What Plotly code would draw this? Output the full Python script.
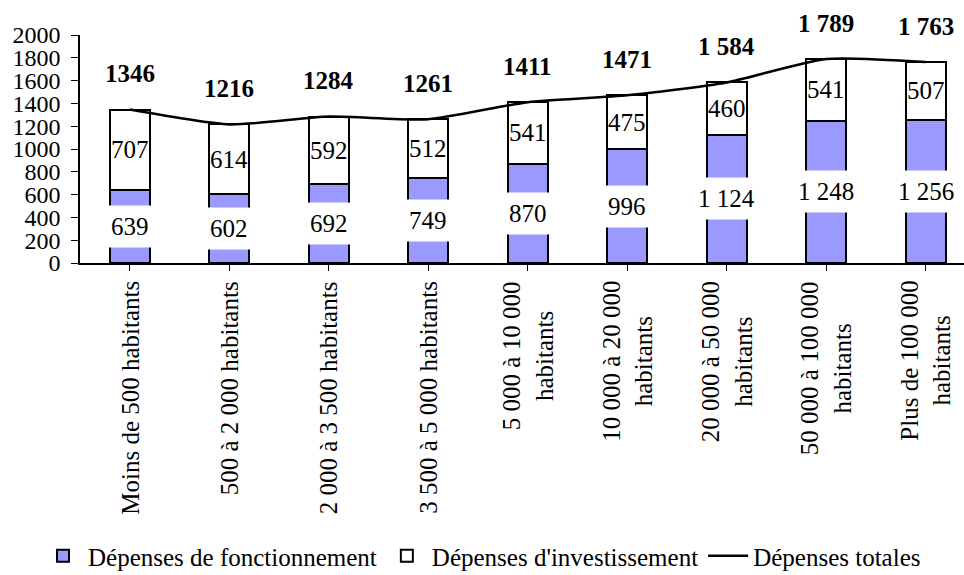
import plotly.graph_objects as go

categories = [
    "Moins de 500 habitants",
    "500 à 2 000 habitants",
    "2 000 à 3 500 habitants",
    "3 500 à 5 000 habitants",
    "5 000 à 10 000<br>habitants",
    "10 000 à 20 000<br>habitants",
    "20 000 à 50 000<br>habitants",
    "50 000 à 100 000<br>habitants",
    "Plus de 100 000<br>habitants",
]
fonctionnement = [639, 602, 692, 749, 870, 996, 1124, 1248, 1256]
investissement = [707, 614, 592, 512, 541, 475, 460, 541, 507]
totales = [1346, 1216, 1284, 1261, 1411, 1471, 1584, 1789, 1763]
total_labels = ["1346", "1216", "1284", "1261", "1411", "1471", "1 584", "1 789", "1 763"]
y_ticks = [0, 200, 400, 600, 800, 1000, 1200, 1400, 1600, 1800, 2000]

FONT = "Liberation Serif, Times New Roman, serif"
FS = 25


def fmt(v):
    return f"{v:,}".replace(",", " ")


x = list(range(len(categories)))

fig = go.Figure()
fig.add_trace(go.Bar(
    x=x, y=fonctionnement, name="Dépenses de fonctionnement",
    marker=dict(color="#9999FF", line=dict(color="black", width=2)),
    width=0.4,
))
fig.add_trace(go.Bar(
    x=x, y=investissement, name="Dépenses d'investissement",
    marker=dict(color="white", line=dict(color="black", width=2)),
    width=0.4,
))
fig.add_trace(go.Scatter(
    x=x, y=totales, name="Dépenses totales", mode="lines",
    line=dict(color="black", width=2.5, shape="spline", smoothing=0.6),
))

annotations = []
for i, (f, inv, t, tl, cat) in enumerate(zip(fonctionnement, investissement, totales, total_labels, categories)):
    annotations.append(dict(
        x=i, y=f / 2, xref="x", yref="y", text=fmt(f), showarrow=False,
        font=dict(family=FONT, size=FS, color="black"),
        bgcolor="white", borderpad=7, xanchor="center", yanchor="middle",
    ))
    annotations.append(dict(
        x=i, y=f + inv / 2, xref="x", yref="y", text=fmt(inv), showarrow=False,
        font=dict(family=FONT, size=FS, color="black"),
        xanchor="center", yanchor="middle",
    ))
    annotations.append(dict(
        x=i, y=t, xref="x", yref="y", text="<b>" + tl + "</b>", showarrow=False,
        font=dict(family=FONT, size=FS, color="black"),
        xanchor="center", yanchor="middle", yshift=36,
    ))
    annotations.append(dict(
        x=i, y=0, xref="x", yref="paper", text=cat, showarrow=False,
        font=dict(family=FONT, size=FS, color="black"),
        textangle=-90, align="center",
        xanchor="center", yanchor="top", yshift=-16,
    ))

fig.update_layout(
    width=964, height=575,
    margin=dict(l=80, r=0, t=35, b=312, autoexpand=False),
    barmode="stack",
    plot_bgcolor="white", paper_bgcolor="white",
    font=dict(family=FONT, size=FS, color="black"),
    showlegend=True,
    legend=dict(
        orientation="h", xref="container", yref="container",
        x=0.5, xanchor="center", y=0.033, yanchor="middle",
        font=dict(family=FONT, size=FS, color="black"),
        traceorder="normal", itemwidth=40,
    ),
    annotations=annotations,
)
fig.update_xaxes(
    range=[-0.5, 8.385], showticklabels=False, tickmode="array",
    tickvals=x, ticks="outside", tickson="boundaries", ticklen=6,
    tickcolor="black", showline=True, linecolor="black", linewidth=1.5,
    showgrid=False, zeroline=False, fixedrange=True,
)
fig.update_yaxes(
    range=[0, 2000], tickmode="array", tickvals=y_ticks,
    ticks="outside", ticklen=7, tickcolor="black",
    showline=True, linecolor="black", linewidth=1.5,
    showgrid=False, zeroline=False, fixedrange=True,
    tickfont=dict(family=FONT, size=24, color="black"),
    ticklabelstandoff=6,
)

fig.write_html(
    "out.html",
    config={"displayModeBar": False},
    post_script="document.body.style.margin='0';document.body.style.padding='0';",
)
